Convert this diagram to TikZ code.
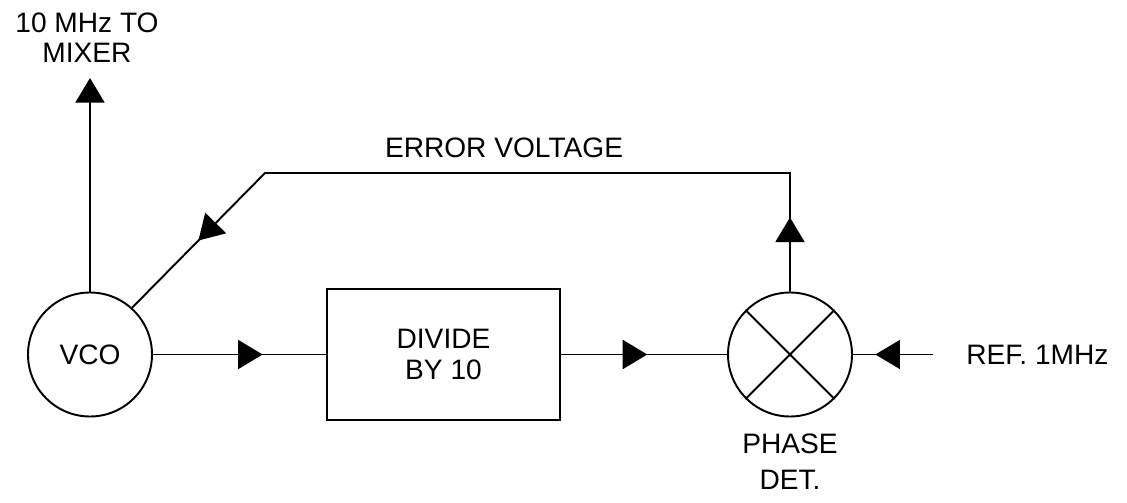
\documentclass[tikz,border=0pt]{standalone}
\usepackage{fontspec}
\setmainfont{Liberation Sans}
\usetikzlibrary{arrows.meta,decorations.markings,positioning}
\begin{document}
\begin{tikzpicture}[line width=1.1pt,
  tri/.tip={Triangle[length=14pt,width=16.5pt]},
  lbl/.style={font=\fontsize{16}{17}\selectfont,align=center},
  midarr/.style={postaction={decorate,decoration={markings,mark=at position #1 with {\arrow{tri}}}}}]
  \useasboundingbox (0,0) rectangle (22.54,10.04);
  \node[draw,circle,minimum size=2.48cm,lbl] (vco) at (1.8,2.95) {VCO};
  \node[draw,minimum width=4.66cm,minimum height=2.62cm,font=\fontsize{16}{18}\selectfont,align=center] (div) at (8.87,2.95) {DIVIDE\\BY 10};
  \node[draw,circle,minimum size=2.48cm] (pd) at (15.8,2.95) {};
  \draw (pd.45) -- (pd.225) (pd.135) -- (pd.315);
  \node[font=\fontsize{16}{20}\selectfont,align=center,below=0.2cm of pd] (pdlbl) {PHASE\\DET.};
  \node[lbl,anchor=west] (ref) at (19.19,2.95) {REF. 1MHz};
  \coordinate (refin) at (18.66,2.95);
  % output to mixer
  \coordinate (mixout) at (1.8,8.48);
  \node[lbl] (mixer) at (1.74,9.29) {10 MHz TO\\MIXER};
  \draw[-{tri}] (vco.north) -- (mixout);
  % main chain
  \draw[midarr=0.634] (vco) -- (div);
  \draw[midarr=0.52] (div) -- (pd);
  \draw[midarr=0.72] (refin) -- (pd);
  % error voltage loop
  \coordinate (fbup) at (15.8,6.58);
  \coordinate (fbleft) at (5.3,6.58);
  \node[lbl,anchor=base] (err) at (10.08,6.88) {ERROR VOLTAGE};
  \draw[midarr=0.089,midarr=0.887] (pd.north) -- (fbup) -- (fbleft) -- (vco.48);
\end{tikzpicture}
\end{document}
